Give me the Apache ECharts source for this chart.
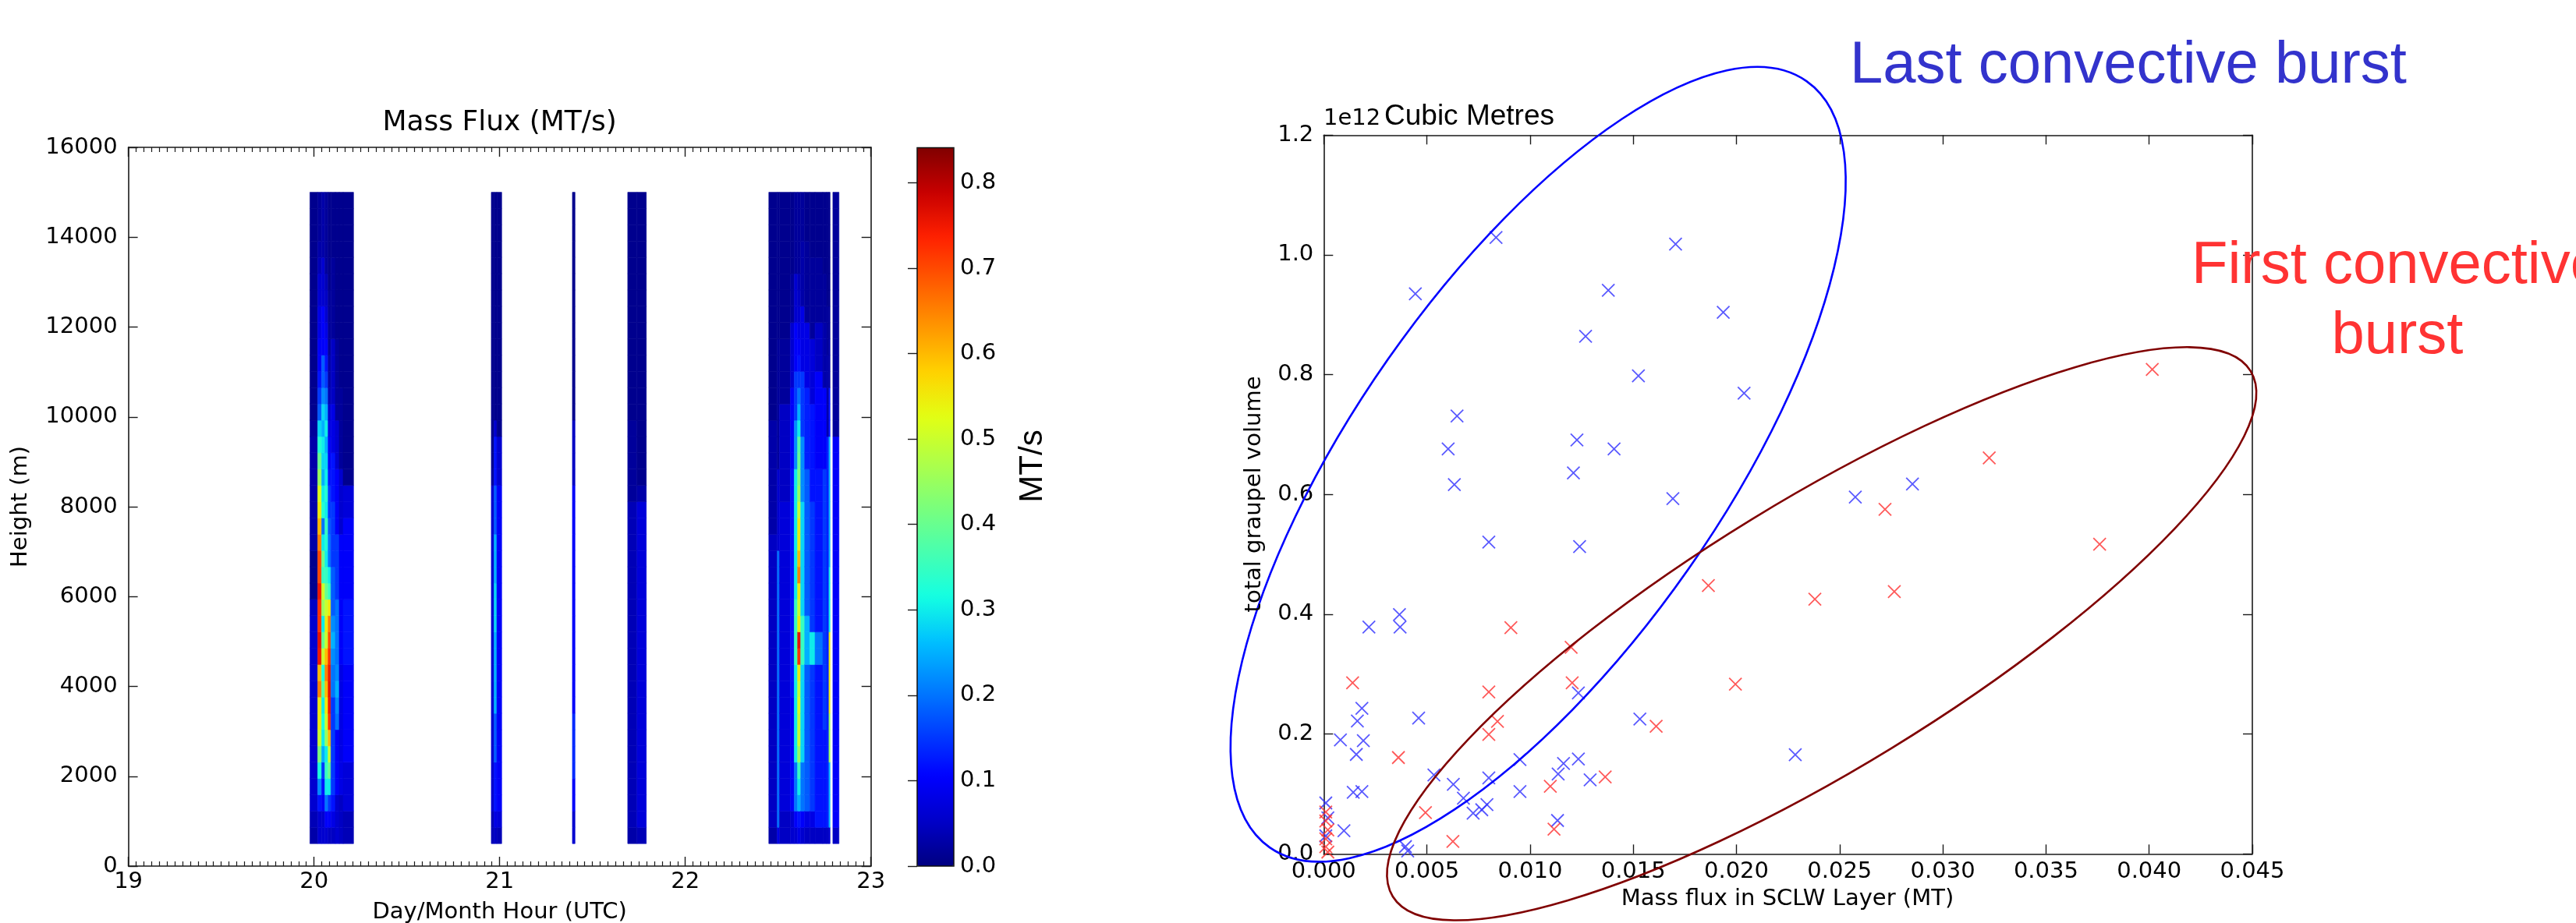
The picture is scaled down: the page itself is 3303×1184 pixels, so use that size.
<!DOCTYPE html>
<html><head><meta charset="utf-8">
<script src="https://cdn.jsdelivr.net/npm/echarts@6/dist/echarts.min.js"></script>
<style>html,body{margin:0;padding:0;background:#fff}#c{width:3303px;height:1184px}</style>
</head><body><div id="c"></div>
<script>
// ---------- DATA ----------
// height level edges (m)
const levelEdges = [500,862.5,1225,1587.5,1950,2312.5,2675,3037.5,3400,3762.5,4125,4487.5,4850,5212.5,5575,5937.5,6300,6662.5,7025,7387.5,7750,8112.5,8475,8837.5,9200,9562.5,9925,10287.5,10650,11012.5,11375,11737.5,12100,12462.5,12825,13187.5,13550,13912.5,14275,14637.5,15000];
// column time spans (day.fraction)
const colStart = [19.978,20.020,20.041,20.059,20.076,20.091,20.115,20.136,20.157, 20.955,20.970,20.985, 21.392, 21.690,21.740, 22.450,22.496,22.507,22.566,22.587,22.605,22.622,22.643,22.671,22.699,22.741,22.762,22.774, 22.795];
const colEnd   = [20.020,20.041,20.059,20.076,20.091,20.115,20.136,20.157,20.213, 20.970,20.985,21.011, 21.406, 21.740,21.790, 22.496,22.507,22.566,22.587,22.605,22.622,22.643,22.671,22.699,22.741,22.762,22.774,22.780, 22.828];
// mass flux profiles (MT/s), bottom level -> top level
const b1c1=[0.03,0.04,0.06,0.06,0.06,0.06,0.06,0.06,0.06,0.06,0.06,0.06,0.06,0.06,0.05,0.01,0.01,0.01,0.03,0.03,0.03,0.03,0.03,0.03,0.03,0.02,0.01,0.01,0.01,0.01,0.01,0.01,0.01,0.01,0.01,0.01,0.01,0.01,0.01,0.01];
const b1c2=[0.06,0.06,0.12,0.22,0.32,0.42,0.5,0.55,0.55,0.65,0.6,0.75,0.76,0.72,0.72,0.75,0.7,0.7,0.65,0.6,0.55,0.52,0.45,0.4,0.33,0.28,0.18,0.15,0.12,0.1,0.1,0.08,0.08,0.06,0.06,0.04,0.03,0.02,0.02,0.02];
const b1c3=[0.06,0.06,0.1,0.12,0.15,0.25,0.3,0.32,0.3,0.38,0.32,0.5,0.4,0.3,0.45,0.5,0.35,0.4,0.3,0.2,0.33,0.3,0.25,0.28,0.3,0.25,0.28,0.22,0.18,0.18,0.1,0.1,0.1,0.06,0.06,0.06,0.03,0.03,0.03,0.03];
const b1c4=[0.06,0.1,0.2,0.3,0.35,0.3,0.45,0.5,0.55,0.6,0.65,0.6,0.5,0.55,0.5,0.4,0.35,0.3,0.33,0.35,0.3,0.33,0.3,0.28,0.25,0.3,0.25,0.2,0.15,0.12,0.1,0.08,0.06,0.05,0.04,0.02,0.02,0.02,0.02,0.02];
const b1c5=[0.05,0.1,0.15,0.3,0.4,0.5,0.6,0.72,0.75,0.76,0.75,0.72,0.7,0.65,0.55,0.35,0.3,0.2,0.2,0.18,0.15,0.15,0.12,0.1,0.1,0.08,0.06,0.04,0.03,0.03,0.02,0.02,0.02,0.02,0.01,0.01,0.01,0.01,0.01,0.01];
const b1c6=[0.05,0.08,0.12,0.15,0.15,0.15,0.15,0.15,0.15,0.2,0.2,0.22,0.25,0.22,0.18,0.18,0.18,0.15,0.15,0.15,0.15,0.12,0.12,0.12,0.08,0.08,0.08,0.05,0.05,0.05,0.05,0.02,0.02,0.02,0.02,0.02,0.01,0.01,0.01,0.01];
const b1c7=[0.06,0.06,0.06,0.1,0.1,0.1,0.1,0.2,0.22,0.25,0.22,0.2,0.2,0.2,0.2,0.15,0.15,0.15,0.15,0.1,0.1,0.1,0.1,0.06,0.06,0.06,0.02,0.02,0.02,0.02,0.02,0.01,0.01,0.01,0.01,0.01,0.01,0.01,0.01,0.01];
const b1c8=[0.05,0.05,0.05,0.08,0.08,0.08,0.08,0.08,0.08,0.08,0.08,0.1,0.1,0.1,0.1,0.1,0.1,0.1,0.1,0.06,0.06,0.06,0.06,0.02,0.02,0.02,0.02,0.02,0.01,0.01,0.01,0.01,0.01,0.01,0.01,0.01,0.01,0.01,0.01,0.01];
const b1c9=[0.04,0.04,0.07,0.07,0.07,0.1,0.1,0.1,0.1,0.1,0.1,0.12,0.12,0.12,0.12,0.1,0.1,0.1,0.1,0.1,0.07,0.07,0.01,0.01,0.01,0.01,0.01,0.01,0.01,0.01,0.01,0.01,0.01,0.01,0.01,0.01,0.01,0.01,0.01,0.01];
const b2c1=[0.04,0.04,0.06,0.06,0.06,0.06,0.06,0.06,0.06,0.06,0.06,0.06,0.06,0.06,0.06,0.06,0.06,0.06,0.06,0.06,0.06,0.06,0.02,0.01,0.01,0.01,0.01,0.01,0.01,0.01,0.01,0.01,0.01,0.01,0.01,0.01,0.01,0.01,0.01,0.01];
const b2c2=[0.05,0.08,0.12,0.12,0.12,0.18,0.18,0.18,0.25,0.25,0.25,0.25,0.25,0.28,0.28,0.28,0.25,0.25,0.25,0.18,0.18,0.18,0.12,0.12,0.12,0.06,0.01,0.01,0.01,0.01,0.01,0.01,0.01,0.01,0.01,0.01,0.01,0.01,0.01,0.01];
const b2c3=[0.04,0.07,0.1,0.1,0.1,0.1,0.1,0.1,0.1,0.1,0.1,0.1,0.1,0.1,0.1,0.1,0.1,0.1,0.1,0.1,0.1,0.1,0.06,0.06,0.06,0.01,0.01,0.01,0.01,0.01,0.01,0.01,0.01,0.01,0.01,0.01,0.01,0.01,0.01,0.01];
const b3c1=[0.06,0.06,0.1,0.1,0.14,0.14,0.14,0.14,0.1,0.1,0.1,0.1,0.1,0.1,0.1,0.1,0.1,0.1,0.1,0.1,0.1,0.1,0.05,0.05,0.05,0.05,0.01,0.01,0.01,0.01,0.01,0.01,0.01,0.01,0.01,0.01,0.01,0.01,0.01,0.01];
const b4c1=[0.03,0.04,0.04,0.04,0.04,0.04,0.04,0.04,0.04,0.04,0.04,0.04,0.04,0.04,0.04,0.04,0.04,0.04,0.04,0.04,0.04,0.02,0.02,0.02,0.02,0.02,0.01,0.01,0.01,0.01,0.01,0.01,0.01,0.01,0.01,0.01,0.01,0.01,0.01,0.01];
const b4c2=[0.04,0.07,0.07,0.07,0.07,0.07,0.07,0.07,0.07,0.07,0.07,0.07,0.07,0.07,0.07,0.07,0.07,0.07,0.07,0.07,0.07,0.03,0.01,0.01,0.01,0.01,0.01,0.01,0.01,0.01,0.01,0.01,0.01,0.01,0.01,0.01,0.01,0.01,0.01,0.01];
const b5c1=[0.03,0.05,0.05,0.05,0.05,0.05,0.05,0.05,0.05,0.05,0.05,0.05,0.05,0.05,0.05,0.05,0.05,0.05,0.05,0.03,0.03,0.03,0.03,0.03,0.03,0.03,0.01,0.01,0.01,0.01,0.01,0.01,0.01,0.01,0.01,0.01,0.01,0.01,0.01,0.01];
const b5c2=[0.08,0.2,0.2,0.2,0.2,0.2,0.2,0.2,0.2,0.2,0.2,0.2,0.2,0.2,0.2,0.2,0.2,0.2,0.06,0.06,0.06,0.06,0.06,0.02,0.02,0.02,0.02,0.02,0.02,0.02,0.02,0.01,0.01,0.01,0.01,0.01,0.01,0.01,0.01,0.01];
const b5c3=[0.05,0.05,0.07,0.07,0.07,0.07,0.07,0.07,0.07,0.07,0.07,0.07,0.07,0.07,0.07,0.07,0.07,0.07,0.07,0.07,0.07,0.05,0.05,0.05,0.05,0.05,0.05,0.02,0.02,0.02,0.02,0.01,0.01,0.01,0.01,0.01,0.01,0.01,0.01,0.01];
const b5c4=[0.06,0.06,0.1,0.1,0.1,0.1,0.1,0.1,0.1,0.12,0.12,0.12,0.12,0.12,0.12,0.12,0.12,0.12,0.12,0.12,0.12,0.12,0.12,0.1,0.1,0.1,0.1,0.1,0.06,0.06,0.06,0.06,0.02,0.02,0.02,0.01,0.01,0.01,0.01,0.01];
const b5c5=[0.06,0.1,0.2,0.2,0.2,0.3,0.3,0.3,0.3,0.3,0.3,0.35,0.35,0.35,0.35,0.3,0.3,0.3,0.3,0.3,0.3,0.3,0.3,0.22,0.22,0.22,0.15,0.15,0.15,0.1,0.1,0.1,0.06,0.06,0.06,0.02,0.02,0.02,0.02,0.02];
const b5c6=[0.08,0.12,0.25,0.3,0.35,0.45,0.5,0.5,0.52,0.5,0.55,0.72,0.76,0.55,0.5,0.55,0.65,0.6,0.55,0.55,0.5,0.45,0.42,0.4,0.38,0.3,0.25,0.2,0.15,0.12,0.1,0.08,0.06,0.05,0.04,0.02,0.02,0.02,0.02,0.02];
const b5c7=[0.06,0.1,0.2,0.2,0.2,0.28,0.28,0.28,0.28,0.28,0.28,0.35,0.35,0.35,0.28,0.28,0.28,0.28,0.28,0.28,0.28,0.22,0.22,0.22,0.22,0.15,0.15,0.15,0.15,0.08,0.08,0.08,0.08,0.03,0.03,0.03,0.03,0.02,0.02,0.02];
const b5c8=[0.05,0.08,0.18,0.18,0.18,0.18,0.18,0.18,0.18,0.18,0.18,0.25,0.25,0.25,0.18,0.18,0.18,0.18,0.18,0.18,0.18,0.18,0.18,0.13,0.13,0.13,0.13,0.13,0.08,0.08,0.08,0.08,0.02,0.02,0.02,0.02,0.02,0.01,0.01,0.01];
const b5c9=[0.05,0.08,0.15,0.15,0.15,0.15,0.15,0.15,0.15,0.15,0.15,0.3,0.3,0.15,0.15,0.15,0.15,0.15,0.15,0.15,0.15,0.12,0.12,0.12,0.12,0.12,0.12,0.07,0.07,0.07,0.07,0.02,0.02,0.02,0.02,0.02,0.01,0.01,0.01,0.01];
const b5c10=[0.05,0.12,0.12,0.12,0.12,0.12,0.12,0.12,0.12,0.12,0.12,0.2,0.2,0.12,0.12,0.12,0.12,0.12,0.12,0.12,0.12,0.12,0.12,0.1,0.1,0.1,0.1,0.1,0.1,0.05,0.05,0.05,0.02,0.02,0.02,0.02,0.01,0.01,0.01,0.01];
const b5c11=[0.05,0.12,0.12,0.12,0.12,0.12,0.12,0.15,0.15,0.15,0.15,0.15,0.15,0.15,0.15,0.15,0.15,0.15,0.15,0.15,0.15,0.15,0.15,0.1,0.1,0.1,0.1,0.1,0.03,0.03,0.03,0.03,0.02,0.02,0.02,0.01,0.01,0.01,0.01,0.01];
const b5c12=[0.05,0.13,0.13,0.13,0.13,0.13,0.13,0.13,0.13,0.13,0.13,0.13,0.13,0.13,0.13,0.13,0.13,0.13,0.13,0.13,0.13,0.13,0.13,0.13,0.13,0.03,0.03,0.03,0.03,0.03,0.02,0.02,0.02,0.01,0.01,0.01,0.01,0.01,0.01,0.01];
const b5c13=[0.06,0.25,0.25,0.25,0.25,0.45,0.45,0.45,0.55,0.55,0.55,0.55,0.55,0.3,0.3,0.3,0.3,0.25,0.25,0.25,0.25,0.25,0.25,0.25,0.25,0.12,0.12,0.12,0.03,0.03,0.03,0.02,0.02,0.01,0.01,0.01,0.01,0.01,0.01,0.01];
const b6c1=[0.05,0.1,0.1,0.1,0.1,0.1,0.1,0.1,0.1,0.1,0.1,0.1,0.1,0.1,0.1,0.1,0.1,0.1,0.1,0.1,0.1,0.1,0.1,0.1,0.1,0.02,0.02,0.02,0.02,0.02,0.02,0.02,0.02,0.02,0.02,0.02,0.02,0.02,0.02,0.02];
const colProfiles=[b1c1,b1c2,b1c3,b1c4,b1c5,b1c6,b1c7,b1c8,b1c9,b2c1,b2c2,b2c3,b3c1,b4c1,b4c2,b5c1,b5c2,b5c3,b5c4,b5c5,b5c6,b5c7,b5c8,b5c9,b5c10,b5c11,b5c12,b5c13,b6c1];

// scatter: [mass flux in SCLW layer (MT), total graupel volume (1e12 m^3)]
const lastBurst = [[0.00444,0.935],[0.00835,1.029],[0.01705,1.018],[0.01379,0.941],[0.01936,0.904],[0.01269,0.864],[0.01525,0.798],[0.02037,0.769],[0.00646,0.731],[0.00603,0.676],[0.01227,0.691],[0.01407,0.676],[0.0121,0.636],[0.00633,0.6165],[0.01692,0.593],[0.008,0.5206],[0.0124,0.513],[0.00219,0.3787],[0.00367,0.3995],[0.0037,0.3787],[0.00185,0.243],[0.00163,0.2218],[0.0046,0.2266],[0.00081,0.1903],[0.00192,0.1889],[0.00158,0.166],[0.01234,0.2688],[0.01532,0.2252],[0.00951,0.1574],[0.01234,0.1583],[0.01162,0.151],[0.01136,0.1332],[0.00534,0.1317],[0.008,0.1269],[0.01291,0.1235],[0.00628,0.1162],[0.00677,0.093],[0.00951,0.1041],[0.00143,0.1027],[0.00185,0.1041],[0.00791,0.0823],[0.00766,0.0736],[0.00724,0.0678],[0.01133,0.0557],[0.00098,0.0387],[0.00396,0.0121],[0.00407,0.0048],[0.02576,0.5956],[0.02853,0.6174],[0.02285,0.1656],[0.0001,0.085],[0.0002,0.06],[0.0001,0.03]];
const firstBurst = [[0.0014,0.2857],[0.00362,0.1608],[0.00907,0.3777],[0.01199,0.3448],[0.01204,0.2857],[0.008,0.2702],[0.00842,0.2213],[0.008,0.1995],[0.01864,0.448],[0.01995,0.2833],[0.01611,0.2131],[0.01364,0.1283],[0.01098,0.1128],[0.01116,0.0412],[0.00493,0.0688],[0.00626,0.0208],[0.0272,0.5753],[0.0376,0.517],[0.0238,0.4252],[0.02765,0.438],[0.04015,0.8087],[0.03225,0.661],[0.0001,0.07],[0.0001,0.055],[0.0002,0.04],[0.0001,0.025],[0.0001,0.012],[0.0002,0.003]];

// tick values
const dayTicks = [19,20,21,22,23];
const heightTicks = [0,2000,4000,6000,8000,10000,12000,14000,16000];
const fluxTicks = [0.0,0.1,0.2,0.3,0.4,0.5,0.6,0.7,0.8];
const massTicks = [0.000,0.005,0.010,0.015,0.020,0.025,0.030,0.035,0.040,0.045];
const volumeTicks = [0.0,0.2,0.4,0.6,0.8,1.0,1.2];
const fluxMax = 0.841;

// ---------- BUILD ----------
const heatData = [];
colProfiles.forEach((prof, c) => {
  prof.forEach((v, r) => {
    heatData.push([colStart[c], colEnd[c], levelEdges[r], levelEdges[r+1], v]);
  });
});

const jet = ['#000080','#0000c8','#0000ff','#0040ff','#0080ff','#00c0ff','#14ffe2','#48ffaf','#7bff7b','#afff48','#e2ff14','#ffd200','#ff9700','#ff5c00','#ff2100','#c80000','#800000'];

const F_TICK = '"DejaVu Sans", sans-serif';
const AX = '#1a1a1a';
function axisBase(extra){
  return Object.assign({
    type:'value', splitLine:{show:false},
    axisLine:{show:true, onZero:false, lineStyle:{color:AX, width:1.6}},
    axisTick:{show:true, inside:true, length:12, lineStyle:{color:AX, width:1.4}},
    axisLabel:{show:true, fontFamily:F_TICK, fontSize:29, color:'#000'}
  }, extra);
}

const grids = [
  {left:164.6, top:189, width:952.1, height:922},
  {left:1697.3, top:173.3, width:1190.7, height:922},
  {left:1176, top:189.5, width:47, height:921.5, show:true, borderColor:'#111', borderWidth:1.5, backgroundColor:'transparent', z:10}
];

const minor = {show:true, splitNumber:24, length:6, lineStyle:{color:AX, width:1.2}};
const xAxes = [
  axisBase({gridIndex:0, position:'bottom', min:dayTicks[0], max:dayTicks[dayTicks.length-1], interval:1, minorTick:minor,
    axisLabel:{fontFamily:F_TICK, fontSize:29, color:'#000', margin:6, formatter:v=>String(v)}}),
  axisBase({gridIndex:0, position:'top', min:dayTicks[0], max:dayTicks[dayTicks.length-1], interval:1, minorTick:minor, axisLabel:{show:false}}),
  axisBase({gridIndex:1, position:'bottom', min:massTicks[0], max:massTicks[massTicks.length-1], interval:0.005,
    axisLabel:{fontFamily:F_TICK, fontSize:29, color:'#000', margin:9, formatter:v=>v.toFixed(3)}}),
  axisBase({gridIndex:1, position:'top', min:massTicks[0], max:massTicks[massTicks.length-1], interval:0.005, axisLabel:{show:false}}),
  {type:'value', gridIndex:2, show:false, min:0, max:1}
];
const yAxes = [
  axisBase({gridIndex:0, position:'left', min:heightTicks[0], max:heightTicks[heightTicks.length-1], interval:2000,
    axisLabel:{fontFamily:F_TICK, fontSize:29, color:'#000', margin:14, formatter:v=>String(v)}}),
  axisBase({gridIndex:0, position:'right', min:heightTicks[0], max:heightTicks[heightTicks.length-1], interval:2000, axisLabel:{show:false}}),
  axisBase({gridIndex:1, position:'left', min:volumeTicks[0], max:volumeTicks[volumeTicks.length-1], interval:0.2,
    axisLabel:{fontFamily:F_TICK, fontSize:29, color:'#000', margin:13, formatter:v=>v.toFixed(1)}}),
  axisBase({gridIndex:1, position:'right', min:volumeTicks[0], max:volumeTicks[volumeTicks.length-1], interval:0.2, axisLabel:{show:false}}),
  axisBase({gridIndex:2, position:'right', min:fluxTicks[0], max:fluxMax, interval:0.1,
    axisLine:{show:false},
    axisLabel:{fontFamily:F_TICK, fontSize:29, color:'#000', margin:8, showMaxLabel:false, formatter:v=>v.toFixed(1)}})
];

const xSym = 'path://M0,0L10,10M10,0L0,10';

const option = {
  animation:false,
  backgroundColor:'#fff',
  grid: grids,
  xAxis: xAxes,
  yAxis: yAxes,
  visualMap: [{
    type:'continuous', seriesIndex:0, dimension:4, min:0, max:fluxMax,
    inRange:{color:jet}, orient:'vertical', left:1176, top:189.5,
    itemWidth:47, itemHeight:921.5, calculable:false, padding:0, text:null,
    hoverLink:false
  }],
  series: [
    {
      type:'custom', xAxisIndex:0, yAxisIndex:0, data:heatData,
      encode:{x:[0,1], y:[2,3]},
      renderItem:(params, api) => {
        const p0 = api.coord([api.value(0), api.value(3)]);
        const p1 = api.coord([api.value(1), api.value(2)]);
        const col = api.visual('color');
        return {type:'rect', shape:{x:p0[0], y:p0[1], width:p1[0]-p0[0], height:p1[1]-p0[1]},
          style:{fill:col, stroke:col, lineWidth:0.6}};
      }
    },
    {
      type:'scatter', name:'Last convective burst', xAxisIndex:2, yAxisIndex:2, data:lastBurst,
      symbol:xSym, symbolSize:16,
      itemStyle:{color:'rgba(0,0,0,0)', borderColor:'#2f2fff', borderWidth:1.8}, z:5
    },
    {
      type:'scatter', name:'First convective burst', xAxisIndex:2, yAxisIndex:2, data:firstBurst,
      symbol:xSym, symbolSize:16,
      itemStyle:{color:'rgba(0,0,0,0)', borderColor:'#ff2f2f', borderWidth:1.8}, z:6
    }
  ]
};

const chart = echarts.init(document.getElementById('c'), null, {renderer:'canvas'});
chart.setOption(option);

// ---------- annotations ----------
const lastEllipse = {cx:0.01039, cy:0.6504, rx:600, ry:235, angle:55};
const firstEllipse = {cx:0.02413, cy:0.3675, rx:645, ry:172, angle:31.5};
function ell(e, color){
  const p = chart.convertToPixel({xAxisIndex:2, yAxisIndex:2}, [e.cx, e.cy]);
  return {type:'ellipse', x:p[0], y:p[1], rotation:e.angle*Math.PI/180,
    shape:{cx:0, cy:0, rx:e.rx, ry:e.ry}, style:{fill:null, stroke:color, lineWidth:2.6}, z:20, silent:true};
}
function txt(t, x, y, font, fill, align, rot){
  return {type:'text', x:x, y:y, rotation:rot||0, z:30, silent:true,
    style:{text:t, font:font, fill:fill, align:align||'center', verticalAlign:'middle'}};
}
const DV = '"DejaVu Sans", sans-serif';
const LS = '"Liberation Sans", Arial, sans-serif';
chart.setOption({graphic:[
  ell(lastEllipse, '#0000ff'),
  ell(firstEllipse, '#800000'),
  txt('Mass Flux (MT/s)', 640.6, 157.5, '36px '+DV, '#000'),
  txt('Day/Month Hour (UTC)', 640.6, 1170, '29px '+DV, '#000'),
  txt('Height (m)', 26, 650, '29px '+DV, '#000', 'center', Math.PI/2),
  txt('MT/s', 1324, 598, '42px '+LS, '#000', 'center', Math.PI/2),
  txt('total graupel volume', 1608, 634, '29px '+DV, '#000', 'center', Math.PI/2),
  txt('Mass flux in SCLW Layer (MT)', 2292, 1153, '29px '+DV, '#000'),
  txt('1e12', 1697, 152, '29px '+DV, '#000', 'left'),
  txt('Cubic Metres', 1775, 150, '37px '+LS, '#000', 'left'),
  txt('Last convective burst', 2372, 84.7, '76px '+LS, '#3333cc', 'left'),
  txt('First convective', 3074, 342.3, '76px '+LS, '#ff3333'),
  txt('burst', 3074, 431.7, '76px '+LS, '#ff3333')
]});
</script></body></html>
